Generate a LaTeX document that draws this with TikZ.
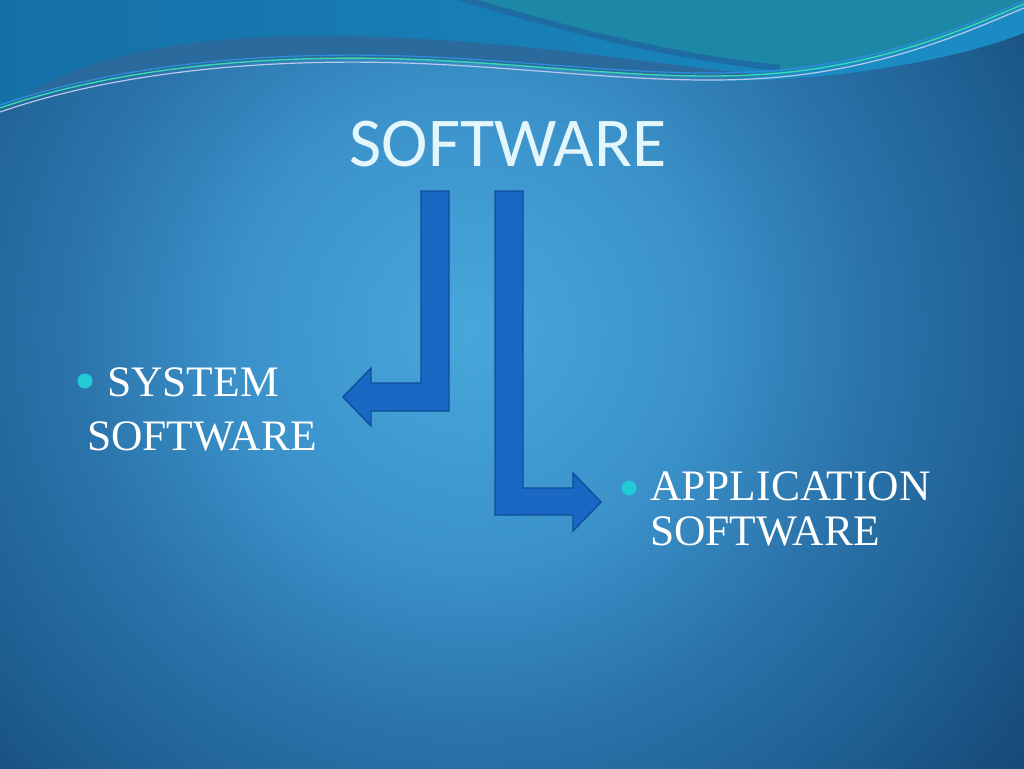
\documentclass[tikz,border=0pt]{standalone}
\usepackage{fontspec}
\newfontfamily\titlefont{Carlito}
\newfontfamily\itemfont{Liberation Serif}

\definecolor{bgcenter}{HTML}{47A7DB}
\definecolor{bgmid}{HTML}{3B92CA}
\definecolor{bgouter}{HTML}{2A73AA}
\definecolor{bgedge}{HTML}{1F6194}
\definecolor{bgcorner}{HTML}{174B7A}
\definecolor{topleft}{HTML}{1570A7}
\definecolor{topmid}{HTML}{1A8DC4}
\definecolor{topteal}{HTML}{1D87A6}
\definecolor{swoosh}{HTML}{2A6A9C}
\definecolor{ribbon}{HTML}{1D6CA4}
\definecolor{lightband}{HTML}{1A8CC3}
\definecolor{greenline}{HTML}{3AD8B0}
\definecolor{paleline}{HTML}{B9C9EE}
\definecolor{blueline}{HTML}{2F8FDC}
\definecolor{arrowfill}{HTML}{1868C4}
\definecolor{arrowedge}{HTML}{0F4C9C}
\definecolor{dotcolor}{HTML}{22CAD8}
\definecolor{titletext}{HTML}{E2F6FB}

\pgfdeclareradialshading{slideglow}{\pgfpoint{0bp}{0bp}}{color(0bp)=(bgcenter); color(8bp)=(bgmid); color(14bp)=(bgouter); color(19bp)=(bgedge); color(24bp)=(bgcorner); color(50bp)=(bgcorner)}

% the thin lines of the top wave
\newcommand\waveline{(0,108) .. controls (110,70) and (260,52) .. (430,60) .. controls (560,66) and (680,84) .. (790,72) .. controls (900,60) and (980,22) .. (1024,4)}

\tikzset{
  title/.style={text=titletext, font=\titlefont\fontsize{70}{84}\selectfont},
  itemtext/.style={text=white, font=\itemfont\fontsize{43.5}{52}\selectfont, inner sep=0pt},
  dot/.style={circle, fill=dotcolor, minimum size=15pt, inner sep=0pt},
  blockarrow/.style={fill=arrowfill, draw=arrowedge, line width=1.4pt, line join=miter}
}

\begin{document}
\begin{tikzpicture}[x=1pt,y=-1pt]
    \useasboundingbox (0,0) rectangle (1024,768);
    \begin{scope}
        \clip (0,0) rectangle (1024,768);
        \shade[shading=slideglow] (470,330) circle [radius=720pt];

        % top wave
        \shade[left color=topleft, right color=topmid] (0,0) -- (1024,0) -- (1024,4) .. controls (980,22) and (900,60) .. (790,72) .. controls (680,84) and (560,66) .. (430,60) .. controls (260,52) and (110,70) .. (0,108) -- cycle;
        \fill[topteal] (455,0) .. controls (540,22) and (640,55) .. (780,71) .. controls (900,58) and (980,22) .. (1024,4) -- (1024,0) -- cycle;
        \draw[ribbon, line width=6pt] (455,-3) .. controls (540,20) and (640,53) .. (780,68);
        \fill[swoosh] (18,100) .. controls (90,50) and (210,34) .. (340,36) .. controls (500,38) and (640,62) .. (760,75) .. controls (640,80) and (540,64) .. (430,60) .. controls (260,52) and (110,70) .. (0,108) -- cycle;
        \fill[lightband] (690,81) .. controls (730,80) and (760,76) .. (790,72) .. controls (900,60) and (980,22) .. (1024,4) -- (1024,33) .. controls (950,62) and (820,84) .. (690,81) -- cycle;

        \draw[blueline, line width=1.2pt, shift={(0,-3)}] \waveline;
        \draw[paleline, line width=1.2pt, shift={(0,4)}] \waveline;
        \draw[greenline, line width=1.4pt] \waveline;
    \end{scope}

    \node[title, anchor=base] (title) at (508,166) {SOFTWARE};

    % left arrow
    \draw[blockarrow] (421,191) -- (449,191) -- (449,411) -- (371,411) -- (371,426) -- (343,397) -- (371,368) -- (371,383) -- (421,383) -- cycle;
    % right arrow
    \draw[blockarrow] (495,191) -- (523,191) -- (523,488) -- (573,488) -- (573,473) -- (601,502) -- (573,531) -- (573,515) -- (495,515) -- cycle;

    \node[dot] (sysdot) at (85,381) {};
    \node[itemtext, anchor=base west] (sys) at (107,396) {SYSTEM};
    \node[itemtext, anchor=base west] (syssoft) at (87,450) {SOFTWARE};

    \node[dot] (appdot) at (629,488) {};
    \node[itemtext, anchor=base west] (app) at (650,500) {APPLICATION};
    \node[itemtext, anchor=base west] (appsoft) at (650,545) {SOFTWARE};
\end{tikzpicture}
\end{document}
